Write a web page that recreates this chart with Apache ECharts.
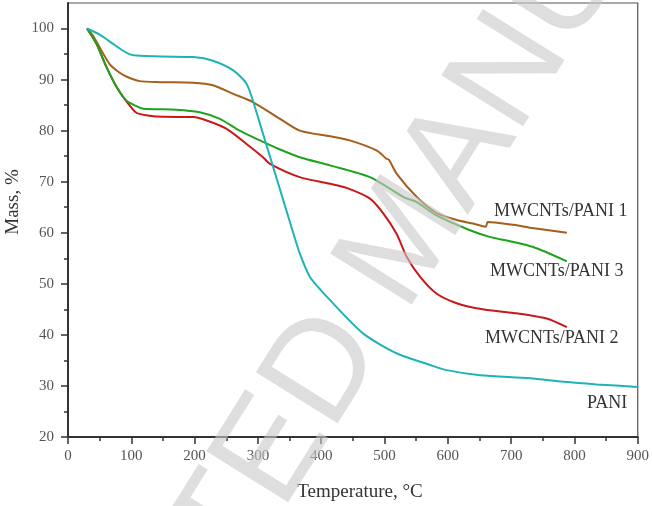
<!DOCTYPE html>
<html>
<head>
<meta charset="utf-8">
<script src="https://cdn.jsdelivr.net/npm/echarts@6/dist/echarts.min.js"></script>
<style>html,body{margin:0;padding:0;background:#fff;}#c{width:652px;height:506px;}</style>
</head>
<body>
<div id="c"></div>
<script>
// Temperature (°C) / Mass (%) readings
var paniT = [30, 50, 70, 85, 97, 108, 150, 198, 229, 261, 282, 292, 308, 324, 340, 356, 366, 382, 414, 466, 519, 572, 598, 651, 730, 783, 835, 900];
var paniM = [100, 98.8, 97.1, 95.8, 95.0, 94.7, 94.5, 94.4, 93.7, 91.8, 89.2, 85.9, 79.4, 72.9, 66.4, 59.9, 56.0, 51.4, 46.8, 40.3, 36.4, 34.1, 33.1, 32.1, 31.5, 30.8, 30.3, 29.8];

var p1T = [30, 40, 50, 66, 80, 92, 113, 145, 198, 229, 261, 292, 335, 366, 414, 445, 488, 503, 507, 519, 551, 582, 614, 640, 660, 663, 700, 730, 788];
var p1M = [100, 98.5, 96.3, 93.0, 91.5, 90.6, 89.7, 89.5, 89.4, 88.9, 87.2, 85.6, 82.3, 80.0, 78.9, 78.1, 76.1, 74.5, 74.3, 71.6, 67.0, 63.9, 62.5, 61.8, 61.2, 62.1, 61.6, 61.0, 60.0];

var p2T = [30, 45, 61, 77, 92, 108, 129, 150, 198, 219, 250, 282, 308, 319, 366, 414, 440, 477, 498, 519, 535, 556, 582, 614, 655, 704, 756, 788];
var p2M = [100, 97, 92.4, 88.5, 85.8, 83.5, 82.9, 82.7, 82.65, 82.0, 80.4, 77.4, 74.8, 73.5, 70.9, 69.6, 68.8, 66.7, 63.8, 59.8, 55.3, 51.4, 48.1, 46.2, 45.0, 44.3, 43.2, 41.5];

var p3T = [30, 45, 61, 77, 92, 108, 119, 171, 208, 240, 271, 303, 335, 366, 414, 477, 530, 551, 582, 635, 666, 700, 735, 788];
var p3M = [100, 97, 92.4, 88.5, 85.9, 84.8, 84.3, 84.1, 83.6, 82.3, 80.0, 78.1, 76.3, 74.8, 73.2, 70.9, 67.0, 66.0, 63.4, 60.5, 59.2, 58.3, 57.2, 54.4];

var seriesNames = ['MWCNTs/PANI 1', 'MWCNTs/PANI 3', 'MWCNTs/PANI 2', 'PANI'];
var yMajor = [20, 30, 40, 50, 60, 70, 80, 90, 100];
var yMinor = [25, 35, 45, 55, 65, 75, 85, 95];

function pairs(t, m) { return t.map(function (v, i) { return [v, m[i]]; }); }

var serif = '"Liberation Serif", "Times New Roman", serif';
var chart = echarts.init(document.getElementById('c'), null, { renderer: 'canvas' });

function lineSeries(name, data, color, z) {
  return {
    name: name, type: 'line', data: data, showSymbol: false, symbol: 'none',
    smooth: 0.25, z: z,
    lineStyle: { color: color, width: 2 },
    xAxisIndex: 0, yAxisIndex: 0
  };
}

chart.setOption({
  animation: false,
  backgroundColor: '#fff',
  grid: { left: 68, right: 14, top: 3, bottom: 69, show: true, borderColor: '#555', borderWidth: 1.2, backgroundColor: 'transparent' },
  xAxis: {
    type: 'value', min: 0, max: 900, interval: 100,
    axisLine: { show: true, onZero: false, lineStyle: { color: '#333', width: 2 } },
    axisTick: { show: true, inside: false, length: 7, lineStyle: { color: '#333', width: 1.5 } },
    minorTick: { show: true, splitNumber: 2, length: 4, lineStyle: { color: '#333', width: 1.5 } },
    axisLabel: { margin: 12, fontFamily: serif, fontSize: 15, color: '#555' },
    splitLine: { show: false }, minorSplitLine: { show: false }
  },
  yAxis: [{
    type: 'value', min: 20, max: 105, interval: 10,
    axisLine: { show: true, onZero: false, lineStyle: { color: '#333', width: 2 } },
    axisTick: { show: true, inside: false, length: 7, customValues: yMajor, lineStyle: { color: '#333', width: 1.5 } },
    axisLabel: { margin: 14, fontFamily: serif, fontSize: 15, color: '#555', customValues: yMajor },
    splitLine: { show: false }
  }, {
    type: 'value', min: 20, max: 105, interval: 5, position: 'left',
    axisLine: { show: false },
    axisTick: { show: true, inside: false, length: 4, customValues: yMinor, lineStyle: { color: '#333', width: 1.5 } },
    axisLabel: { show: false },
    splitLine: { show: false }
  }],
  series: [
    lineSeries(seriesNames[2], pairs(p2T, p2M), '#c81818', 2),
    lineSeries(seriesNames[0], pairs(p1T, p1M), '#a35f1c', 3),
    lineSeries(seriesNames[1], pairs(p3T, p3M), '#1ea31e', 4),
    lineSeries(seriesNames[3], pairs(paniT, paniM), '#1fb3b8', 5)
  ],
  graphic: [
    { type: 'text', x: 13, y: 202, rotation: Math.PI / 2, style: { text: 'Mass, %', font: '19px ' + serif, fill: '#333', textAlign: 'center', textVerticalAlign: 'middle' } },
    { type: 'text', x: 360, y: 492, style: { text: 'Temperature, °C', font: '19px ' + serif, fill: '#333', textAlign: 'center', textVerticalAlign: 'middle' } },
    { type: 'text', x: 494, y: 211, style: { text: seriesNames[0], font: '18px ' + serif, fill: '#333', textAlign: 'left', textVerticalAlign: 'middle' } },
    { type: 'text', x: 490, y: 271, style: { text: seriesNames[1], font: '18px ' + serif, fill: '#333', textAlign: 'left', textVerticalAlign: 'middle' } },
    { type: 'text', x: 485, y: 338, style: { text: seriesNames[2], font: '18px ' + serif, fill: '#333', textAlign: 'left', textVerticalAlign: 'middle' } },
    { type: 'text', x: 587, y: 403, style: { text: seriesNames[3], font: '18px ' + serif, fill: '#333', textAlign: 'left', textVerticalAlign: 'middle' } },
    { type: 'text', x: 406, y: 241, rotation: 58 * Math.PI / 180, z: 100, silent: true,
      style: { text: 'ACCEPTED MANUSCRIPT', font: '140px "Liberation Sans", Arial, sans-serif', fill: 'rgba(200,200,200,0.6)', textAlign: 'center', textVerticalAlign: 'middle' } }
  ]
});
</script>
</body>
</html>
